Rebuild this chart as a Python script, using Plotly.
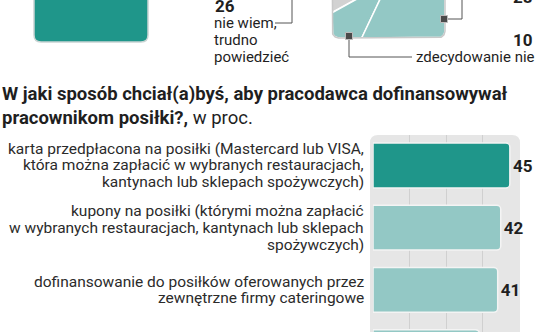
import numpy as np
import plotly.graph_objects as go

# ---------------- data ----------------
categories = [
    "karta przedpłacona na posiłki (Mastercard lub VISA,<br>która można zapłacić w wybranych restauracjach,<br>kantynach lub sklepach spożywczych)",
    "kupony na posiłki (którymi można zapłacić<br>w wybranych restauracjach, kantynach lub sklepach<br>spożywczych)",
    "dofinansowanie do posiłków oferowanych przez<br>zewnętrzne firmy cateringowe",
    "",
]
values = [45, 42, 41, 35]
bar_colors = ["#1f968a", "#93c8c5", "#93c8c5", "#93c8c5"]

pie_labels = ["nie wiem,<br>trudno<br>powiedzieć", "zdecydowanie nie", "", ""]
pie_values = [26, 10, 28, 36]
pie_colors = ["#d2d2d2", "#93c8c5", "#93c8c5", "#1f968a"]

title_bold = "W jaki sposób chciał(a)byś, aby pracodawca dofinansowywał<br>pracownikom posiłki?,"
title_rest = " w proc."

W, H = 536, 332
FONT = "Roboto"
DARK = "#1f1f1f"

fig = go.Figure()

# ---------------- square "pie" (cropped at top) ----------------
cx, cy, half, rc = 388.5, -18.5, 56.5, 7.0
start_deg = 115.0


def boundary(theta_deg):
    th = np.radians(theta_deg)
    u = np.array([np.cos(th), np.sin(th)])
    t = half / max(abs(u[0]), abs(u[1]))
    p = t * u
    lim = half - rc
    if abs(p[0]) > lim and abs(p[1]) > lim:
        q = np.array([np.sign(p[0]) * lim, np.sign(p[1]) * lim])
        b = u @ q
        t = b + np.sqrt(b * b - q @ q + rc * rc)
        p = t * u
    return cx + p[0], cy - p[1]


cum = start_deg
for val, col in zip(pie_values, pie_colors):
    span = val / sum(pie_values) * 360.0
    angs = np.linspace(cum, cum + span, max(int(span * 4), 2))
    xs, ys = [cx], [cy]
    for a in angs:
        bx, by = boundary(a)
        xs.append(bx)
        ys.append(by)
    xs.append(cx)
    ys.append(cy)
    fig.add_trace(go.Scatter(x=xs, y=ys, mode="lines", fill="toself", fillcolor=col,
                             line=dict(color="white", width=1.5), hoverinfo="skip",
                             showlegend=False, xaxis="x", yaxis="y"))
    cum += span

ox, oy = zip(*[boundary(a) for a in np.linspace(0, 360, 1441)])
fig.add_trace(go.Scatter(x=ox, y=oy, mode="lines", line=dict(color="#c9c9c9", width=1.5),
                         hoverinfo="skip", showlegend=False, xaxis="x", yaxis="y"))

# leader lines
for lx, ly in [([275, 292, 292], [23, 23, -5]),
               ([349, 349, 412], [36, 57, 57]),
               ([444, 462, 462], [19, 19, -5])]:
    fig.add_trace(go.Scatter(x=lx, y=ly, mode="lines", line=dict(color="#555555", width=1),
                             hoverinfo="skip", showlegend=False, xaxis="x", yaxis="y"))
fig.add_trace(go.Scatter(x=[349, 444], y=[36, 19], mode="markers",
                         marker=dict(symbol="square", size=7, color="#4a4a4a",
                                     line=dict(color="#bdbdbd", width=1)),
                         hoverinfo="skip", showlegend=False, xaxis="x", yaxis="y"))

# ---------------- horizontal bar chart ----------------
idx = list(range(len(values)))
fig.add_trace(go.Bar(
    x=values, y=idx, orientation="h", width=0.72,
    marker=dict(color=bar_colors, cornerradius=4, line=dict(color="#f4f4f4", width=1.5)),
    text=[f"<b>{v}</b>" for v in values], textposition="outside",
    textfont=dict(family=FONT, size=17, color=DARK), cliponaxis=False,
    constraintext="none", hoverinfo="skip", showlegend=False,
    xaxis="x2", yaxis="y2",
))

# ---------------- shapes ----------------
shapes = []
px0, px1, py0, py1, r = 370, 520, 135, 340, 8
shapes.append(dict(type="path", xref="x", yref="y", layer="below",
                   path=f"M{px0},{py1} L{px0},{py0+r} Q{px0},{py0} {px0+r},{py0} "
                        f"L{px1-r},{py0} Q{px1},{py0} {px1},{py0+r} L{px1},{py1} Z",
                   fillcolor="#e6e6e6", line=dict(width=0)))
bx0, bx1, by0, by1, r2 = 34, 148, -20, 42, 7
shapes.append(dict(type="path", xref="x", yref="y", layer="below",
                   path=f"M{bx0},{by0} L{bx0},{by1-r2} Q{bx0},{by1} {bx0+r2},{by1} "
                        f"L{bx1-r2},{by1} Q{bx1},{by1} {bx1},{by1-r2} L{bx1},{by0} Z",
                   fillcolor="#1f968a", line=dict(color="#c9d4d3", width=1.5)))


# ---------------- annotations ----------------
def px_ann(x, y, text, xanchor, size, family=FONT, align="left"):
    return dict(xref="paper", yref="paper", x=x / W, y=1 - y / H, text=text,
                xanchor=xanchor, yanchor="middle", showarrow=False, align=align,
                font=dict(family=family, size=size, color=DARK))


ann = []
ann.append(px_ann(213, 6, f"<b>{pie_values[0]}</b>", "left", 17))
for k, line in enumerate(pie_labels[0].split("<br>")):
    ann.append(px_ann(212, 23 + 17 * k, line, "left", 15))
ann.append(px_ann(535, 40, f"<b>{pie_values[1]}</b>", "right", 17))
ann.append(px_ann(537, 57, pie_labels[1], "right", 15))
ann.append(px_ann(535, -3, f"<b>{pie_values[2]}</b>", "right", 17))
ann.append(px_ann(0, 106, f"<b>{title_bold}</b>{title_rest}", "left", 18.5))

# category labels: one annotation per line, anchored on the bar axis
LINE = 16.8
for i, cat in enumerate(categories):
    if not cat:
        continue
    lines = cat.split("<br>")
    n = len(lines)
    for k, line in enumerate(lines):
        ann.append(dict(xref="x2", yref="y2", x=0, y=i, text=line,
                        xanchor="right", yanchor="middle", xshift=-7,
                        yshift=-(k - (n - 1) / 2) * LINE, showarrow=False,
                        font=dict(family=FONT, size=15.5, color="#2b2b2b")))

# ---------------- layout ----------------
top_px = 135
dom_top = (H - top_px) / H
pitch = 62.2
c0 = 165.5
y_top = (top_px - c0) / pitch
y_bot = (H - c0) / pitch

fig.update_layout(
    width=W, height=H, margin=dict(l=0, r=0, t=0, b=0),
    paper_bgcolor="white", plot_bgcolor="rgba(0,0,0,0)",
    shapes=shapes, annotations=ann,
    xaxis=dict(domain=[0, 1], range=[0, W], visible=False, fixedrange=True),
    yaxis=dict(domain=[0, 1], range=[H, 0], visible=False, fixedrange=True),
    xaxis2=dict(domain=[373 / W, 519 / W], range=[0, 48], anchor="y2",
                showgrid=True, gridcolor="#d0d0d0", gridwidth=1, dtick=12,
                showticklabels=False, zeroline=False, showline=False, ticks=""),
    yaxis2=dict(domain=[0, dom_top], range=[y_bot, y_top], anchor="x2",
                tickmode="array", tickvals=idx, showticklabels=False,
                showgrid=False, zeroline=False, showline=False, ticks=""),
    font=dict(family=FONT),
)

fig.write_html("out.html")
